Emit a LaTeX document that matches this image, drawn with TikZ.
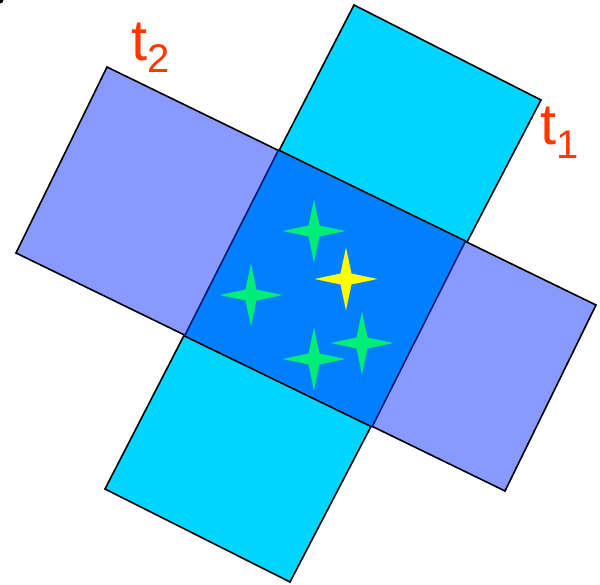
\documentclass[tikz,border=0pt]{standalone}
\usepackage{fontspec}
\setmainfont{Liberation Sans}
\definecolor{cyanbox}{HTML}{00D5FF}
\definecolor{violetbox}{HTML}{8899FF}
\definecolor{overlapbox}{HTML}{0080FF}
\definecolor{stargreen}{HTML}{00EE77}
\definecolor{staryellow}{HTML}{FFFF00}
\definecolor{labelred}{HTML}{FF3800}
\definecolor{navyedge}{HTML}{001A70}
\tikzset{
  boxline/.style={draw=black, line width=1.6pt, line join=miter},
  lbl/.style={text=labelred, inner sep=0pt, font=\fontsize{58}{60}\selectfont}
}
\newcommand{\sparkstar}[2]{%
  \fill[#2] (#1) ++(0,-31.5) -- ++(5.5,26) -- ++(26,5.5) -- ++(-26,5.5) -- ++(-5.5,26)
     -- ++(-5.5,-26) -- ++(-26,-5.5) -- ++(26,-5.5) -- cycle;}
\begin{document}
\begin{tikzpicture}[x=1pt,y=-1pt]
\useasboundingbox (0,0) rectangle (600,585);
% cyan strip t1
\coordinate (c1) at (354,5);
\coordinate (c2) at (541,100);
\coordinate (c3) at (290,582);
\coordinate (c4) at (105,489);
% violet strip t2
\coordinate (p1) at (107,67);
\coordinate (p2) at (596,305);
\coordinate (p3) at (505,491);
\coordinate (p4) at (16,253);
% overlap
\coordinate (o1) at (278.5,150);
\coordinate (o2) at (465.5,241);
\coordinate (o3) at (372,427);
\coordinate (o4) at (184.5,336);
\filldraw[fill=cyanbox, boxline] (c1) -- (c2) -- (c3) -- (c4) -- cycle;
\filldraw[fill=violetbox, boxline] (p1) -- (p2) -- (p3) -- (p4) -- cycle;
\fill[overlapbox] (o1) -- (o2) -- (o3) -- (o4) -- cycle;
\draw[boxline] (o1) -- (o2);
\draw[boxline] (o4) -- (o3);
\draw[boxline, draw=navyedge] (o1) -- (o4);
\draw[boxline, draw=navyedge] (o2) -- (o3);
% stars
\coordinate (s1) at (314,231);
\coordinate (s2) at (346,279);
\coordinate (s3) at (251,295);
\coordinate (s4) at (314,359);
\coordinate (s5) at (362,343);
\sparkstar{s1}{stargreen}
\sparkstar{s2}{staryellow}
\sparkstar{s3}{stargreen}
\sparkstar{s4}{stargreen}
\sparkstar{s5}{stargreen}
% labels
\node[lbl, anchor=base west] (t2) at (131,60.5) {t\raisebox{-12.5pt}{\fontsize{40}{42}\selectfont 2}};
\node[lbl, anchor=base west] (t1) at (540,144.5) {t\raisebox{-14pt}{\fontsize{40}{42}\selectfont 1}};
% stray mark top-left
\fill[black] (0,0) circle (3.5);
\end{tikzpicture}
\end{document}
